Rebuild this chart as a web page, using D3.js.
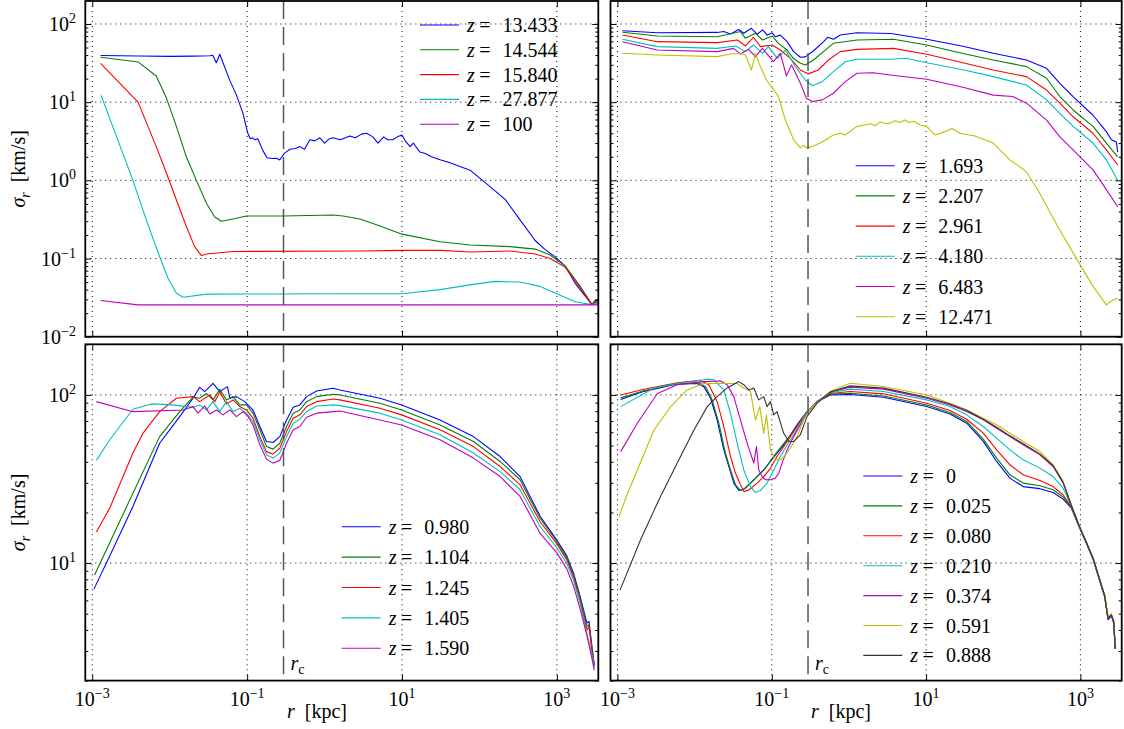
<!DOCTYPE html>
<html>
<head>
<meta charset="utf-8">
<script src="https://cdn.jsdelivr.net/npm/d3@7"></script>
<style>
  body { margin: 0; background: #fff; }
</style>
</head>
<body>
<svg id="chart"></svg>
<script>
// data: [r in kpc, sigma_r in km/s]

// top left
var z13_433 = [[0.00128,39.5],[0.004,39],[0.01,38.5],[0.02,38.8],[0.033,39.2],[0.036,39.8],[0.040,32],[0.0443,41],[0.0597,19],[0.0728,12.3],[0.0879,7.3],[0.102,4.0],[0.11,3.4],[0.118,3.5],[0.127,3.3],[0.137,3.4],[0.16,2.4],[0.18,1.95],[0.21,1.9],[0.24,1.92],[0.264,1.82],[0.30,2.2],[0.357,2.5],[0.42,2.55],[0.48,2.7],[0.55,2.5],[0.646,3.3],[0.75,3.2],[0.87,3.5],[1.0,3.0],[1.15,3.4],[1.28,3.5],[1.6,3.3],[2.12,3.7],[2.5,3.5],[3.0,3.9],[3.49,4.0],[4.2,3.6],[4.9,3.0],[5.8,3.6],[6.5,3.3],[7.6,3.3],[8.7,3.6],[10,3.8],[11,3.2],[12.7,2.7],[14,3.0],[17,2.3],[20,2.2],[24,2.0],[31,1.83],[40,1.7],[56,1.5],[75.7,1.35],[137,0.83],[215,0.57],[336,0.31],[524,0.17],[706,0.13],[950,0.105],[1282,0.08],[1725,0.048],[2838,0.0257],[3100,0.029],[3427,0.03]];
var z14_544 = [[0.00128,37.5],[0.0039,32.7],[0.0067,21.6],[0.0091,11.2],[0.0122,4.9],[0.0164,2.0],[0.0221,1.0],[0.0298,0.51],[0.0382,0.34],[0.0466,0.30],[0.0652,0.32],[0.098,0.35],[0.289,0.35],[1.28,0.36],[1.73,0.35],[2.86,0.32],[5.19,0.26],[10,0.205],[31,0.164],[75.7,0.149],[249,0.142],[524,0.132],[820,0.111],[1282,0.08],[2004,0.044],[2838,0.0257],[3100,0.028],[3427,0.029]];
var z15_840 = [[0.00128,31.4],[0.0039,10],[0.0067,2.7],[0.0091,1.23],[0.0122,0.56],[0.0164,0.257],[0.021,0.142],[0.0257,0.109],[0.03,0.114],[0.0652,0.123],[2.86,0.125],[10,0.127],[31,0.127],[75.7,0.121],[249,0.125],[524,0.114],[820,0.1],[1282,0.077],[2004,0.042],[2838,0.0257],[3100,0.027],[3427,0.028]];
var z27_877 = [[0.0013,12.2],[0.00335,1.0],[0.005,0.31],[0.0074,0.106],[0.0095,0.056],[0.0122,0.036],[0.0149,0.032],[0.0298,0.035],[2.86,0.0355],[10,0.0355],[31,0.04],[75.7,0.046],[159,0.051],[336,0.050],[608,0.044],[1104,0.034],[1725,0.028],[2838,0.0257],[3427,0.027]];
var z100 = [[0.00128,0.029],[0.0039,0.0255],[2838,0.0255],[3427,0.0255]];

// top right
var z1_693 = [[0.00116,82],[0.00329,77.4],[0.0196,78],[0.0239,80],[0.0292,74.5],[0.0374,85],[0.0433,76],[0.0545,88],[0.0646,74],[0.0763,84],[0.0871,72],[0.101,77],[0.111,68.8],[0.129,72],[0.158,59.4],[0.192,44.3],[0.235,37.5],[0.272,38],[0.349,45.5],[0.47,59.4],[0.529,67.6],[0.632,63.7],[0.772,72.3],[1.27,77.4],[3.5,75.5],[10.2,63.7],[30,52],[74.2,42.2],[200,34.6],[364,27.1],[541,17.4],[804,11.8],[1456,6.8],[2170,4.2],[2517,3.3],[2922,3.1],[3040,2.3]];
var z2_207 = [[0.00116,78.3],[0.00329,70.3],[0.0196,68.8],[0.0393,80],[0.0456,65.6],[0.0614,76],[0.0757,62.4],[0.101,70.3],[0.122,56.6],[0.158,46.5],[0.19,36.4],[0.235,31.4],[0.272,29.8],[0.347,34.6],[0.468,44.3],[0.628,56.6],[1.27,62.4],[3.78,63.7],[10.2,53.9],[30,42],[74.2,34.6],[200,28.5],[364,20.2],[541,11.8],[804,7.95],[1456,4.9],[2170,3.0],[3040,2.0]];
var z2_961 = [[0.00116,72.3],[0.00329,59.4],[0.0196,57.7],[0.036,62.4],[0.0456,52.3],[0.0579,67.6],[0.0713,51.3],[0.101,53.9],[0.129,46.5],[0.174,36.4],[0.235,25.8],[0.298,23],[0.401,25.8],[0.541,34.6],[0.772,44.3],[1.27,47.4],[3.78,48.8],[10.2,41.0],[30,32],[74.2,25.8],[200,21.2],[364,14.3],[541,9.7],[804,6.5],[1456,4.0],[2170,2.45],[3040,1.57]];
var z4_180 = [[0.00116,63.7],[0.00329,51.3],[0.0196,48.8],[0.0339,52.3],[0.0456,44.3],[0.0579,53.9],[0.0757,42.2],[0.0905,51.3],[0.118,36.4],[0.150,46.5],[0.202,28.5],[0.272,19.2],[0.336,16.2],[0.452,18.3],[0.628,24.6],[0.898,32.9],[1.27,35.4],[3.42,35.4],[5.51,36.4],[10.2,32.0],[30,26],[74.2,21.2],[200,16.6],[364,10.7],[541,7.2],[804,4.9],[1456,3.0],[2170,1.83],[3040,1.0]];
var z6_483 = [[0.00116,59.4],[0.00329,46.5],[0.0196,44.3],[0.0319,48.8],[0.0393,41.4],[0.0499,47.4],[0.0614,38.2],[0.0757,48.8],[0.105,33],[0.129,42.2],[0.155,21.6],[0.18,30],[0.235,17.4],[0.281,11.2],[0.336,10.2],[0.452,10.7],[0.628,13],[0.898,18.3],[1.27,23.4],[2.07,23.8],[3.42,22.3],[10.2,19.6],[30,15.5],[74.2,12.3],[133,11.8],[200,9.7],[364,5.9],[541,3.6],[804,2.45],[1456,1.36],[2170,0.76],[3040,0.46]];
var z12_471 = [[0.00116,42.2],[0.00329,40.1],[0.0196,38.2],[0.0292,41.4],[0.0393,42],[0.0456,40.1],[0.0545,25.8],[0.0614,42],[0.0713,28.5],[0.0853,19.2],[0.102,15.1],[0.122,11.8],[0.150,5.9],[0.192,3.3],[0.235,2.6],[0.257,2.8],[0.281,2.6],[0.336,2.7],[0.452,3.1],[0.628,3.8],[0.772,4.0],[0.898,3.8],[1.27,4.9],[1.6,5.1],[1.89,5.3],[2.2,5.0],[2.54,5.6],[3.0,5.3],[3.42,5.4],[4.0,5.8],[4.61,5.5],[5.3,5.9],[6,5.5],[7,5.7],[8.36,5.1],[10.2,4.9],[13.1,3.8],[17.6,4.2],[21.7,4.6],[27.5,4.0],[43,3.7],[74.2,3.0],[122,1.83],[200,1.29],[298,0.68],[541,0.23],[804,0.118],[1456,0.044],[2170,0.0255],[2582,0.029],[3040,0.031]];

// bottom left
var z0_980 = [[0.00105,7.0],[0.00168,11.0],[0.00335,21.7],[0.00741,51.6],[0.01346,74.3],[0.0200,95.6],[0.0244,111],[0.0283,104.6],[0.0363,117],[0.0443,104.6],[0.0557,112],[0.0597,95.6],[0.0728,97.7],[0.0931,91.2],[0.119,81.4],[0.146,64.9],[0.178,52.9],[0.216,52.1],[0.264,56.5],[0.323,71],[0.393,84.5],[0.480,87.2],[0.585,97.7],[0.789,105.6],[1.29,109.6],[1.58,107],[5.19,95.6],[9.9,87.2],[31,71],[83.6,56.5],[185,43],[335,32.7],[451,24.9],[608,19.0],[1000,13.7],[1349,11.0],[1641,8.7],[2004,6.3],[2445,4.4],[2600,4.5],[2838,3.2],[3040,2.45]];
var z1_104 = [[0.00107,8.5],[0.00168,13.2],[0.00335,26],[0.00741,56.5],[0.01346,79.5],[0.0200,97],[0.0244,95.6],[0.0298,102],[0.0363,93.4],[0.0443,108],[0.0541,93.4],[0.0658,97.7],[0.0803,87.2],[0.098,87.2],[0.119,77.9],[0.146,62],[0.178,49.3],[0.216,47.6],[0.264,51.6],[0.323,64.9],[0.393,77.9],[0.480,81.4],[0.585,91.2],[0.789,97.7],[1.29,101],[1.58,100],[5.19,89.3],[9.9,81.4],[31,66.3],[83.6,52.8],[185,40.2],[335,31.3],[451,24.0],[608,18.5],[1000,13.4],[1349,10.7],[1641,8.5],[2004,6.2],[2445,4.2],[2600,4.3],[2838,3.1],[3040,2.5]];
var z1_245 = [[0.00113,15.3],[0.00168,21.2],[0.00335,45.1],[0.00451,59.1],[0.00741,79.5],[0.0122,95.6],[0.0200,97.7],[0.0244,91.2],[0.0329,100],[0.0382,91.2],[0.0443,104.6],[0.0541,88.4],[0.0658,93.4],[0.0803,85.2],[0.098,81.4],[0.119,72.7],[0.146,56.5],[0.178,46],[0.216,44.4],[0.264,48.2],[0.323,60.5],[0.393,72.7],[0.480,76.1],[0.585,85.2],[0.789,91.2],[1.29,94.6],[1.58,93.4],[5.19,83.3],[9.9,76.1],[31,62],[83.6,49.3],[185,37.5],[335,29.2],[451,22.7],[608,17.6],[1000,13.0],[1349,10.4],[1641,8.3],[2004,5.9],[2445,4.0],[2600,4.2],[2838,3.0],[3040,2.45]];
var z1_405 = [[0.00113,40.8],[0.00168,54.1],[0.00335,82.2],[0.0058,88.4],[0.011,87.2],[0.0164,85.2],[0.0200,84.5],[0.0244,87.2],[0.0298,81.4],[0.0363,91.2],[0.0443,79.5],[0.0541,91.2],[0.0658,79.5],[0.0803,83.3],[0.098,77.9],[0.119,69.5],[0.146,54.1],[0.178,44.0],[0.216,42.1],[0.264,45.1],[0.323,56.5],[0.393,67.9],[0.480,71.7],[0.585,79.5],[0.789,86],[1.29,87.2],[1.58,86.4],[5.19,77.9],[9.9,71],[31,57.9],[83.6,45.1],[185,35],[335,27.3],[451,21.2],[608,16.5],[1000,12.3],[1349,9.9],[1641,7.9],[2004,5.7],[2445,3.8],[2838,2.85],[3040,2.4]];
var z1_590 = [[0.00113,91.2],[0.00335,79.5],[0.0149,81.4],[0.0200,85.2],[0.0232,77.9],[0.0283,86],[0.0329,77.1],[0.0401,81.4],[0.0489,76.1],[0.0597,81.4],[0.0728,74.3],[0.0887,79.5],[0.103,74.3],[0.119,66.3],[0.146,50.5],[0.178,41.5],[0.216,39.3],[0.264,40.7],[0.323,51.6],[0.393,62],[0.480,64.9],[0.585,73.7],[0.789,77.9],[1.29,79.5],[1.58,80.3],[5.19,71],[9.9,66.3],[31,54.1],[83.6,42.1],[185,32.7],[335,24.9],[451,19.4],[608,15.0],[1000,11.5],[1349,9.2],[1641,7.3],[2004,5.3],[2445,3.7],[2838,2.7],[3040,2.3]];

// bottom right
var z0 = [[0.0011,94],[0.00221,105],[0.00596,116],[0.0108,117],[0.0132,112],[0.0161,95.5],[0.0196,70.9],[0.0239,47.1],[0.0278,37.5],[0.0322,29.9],[0.0374,27.0],[0.0434,27.5],[0.053,29.9],[0.0646,32.7],[0.0787,35.8],[0.096,40.2],[0.117,45],[0.143,50.4],[0.174,57.8],[0.212,66.3],[0.286,79.6],[0.385,91.2],[0.573,100],[1.04,100.5],[2.81,96.8],[10.2,85.3],[20.4,77.1],[33.6,67.9],[55.1,52.9],[82,40.2],[122,32.0],[181,28.5],[298,27.7],[443,26.3],[597,24.0],[764,21.2],[980,16.1],[1194,13.1],[1459,10.5],[1778,7.8],[2063,6.3],[2278,4.6],[2518,4.85],[2697,4.4],[2830,3.1]];
var z0_025 = [[0.0011,96],[0.00221,106],[0.00596,117],[0.0114,118],[0.0139,112],[0.0169,93.4],[0.0206,67.9],[0.0251,45.0],[0.0292,35.8],[0.0339,29.2],[0.0393,27.0],[0.0456,27.9],[0.0556,30.5],[0.0678,33.5],[0.0828,36.6],[0.101,42.0],[0.123,47.1],[0.150,52.8],[0.183,59.1],[0.223,67.9],[0.286,79.6],[0.385,91.2],[0.573,101],[1.04,102.4],[2.81,98.6],[10.2,87.2],[20.4,78.6],[33.6,69.5],[55.1,54.6],[82,42.1],[122,33.5],[181,29.9],[298,28.8],[443,27.3],[597,24.7],[764,21.4],[980,16.2],[1194,13.2],[1459,10.6],[1778,7.9],[2063,6.3],[2278,4.7],[2518,4.9],[2697,4.5],[2830,3.1]];
var z0_080 = [[0.0011,100],[0.00221,108],[0.00596,118],[0.0119,122],[0.0153,115],[0.0196,91.2],[0.0239,64.8],[0.0292,43.0],[0.0339,34.2],[0.0393,29.2],[0.0434,26.6],[0.0504,27.2],[0.0646,29.9],[0.0787,32.7],[0.096,36.6],[0.117,43.0],[0.143,49.3],[0.174,56.5],[0.212,64.8],[0.286,79.6],[0.385,91.2],[0.573,102],[1.04,104.8],[2.81,101.5],[10.2,89.3],[20.4,80.8],[33.6,71.7],[55.1,59.2],[82,47.1],[122,38.4],[181,33.5],[298,31.0],[443,28.5],[597,25.5],[764,21.5],[980,16.2],[1194,13.2],[1459,10.6],[1778,7.9],[2063,6.4],[2278,4.7],[2518,4.95],[2697,4.5],[2830,3.15]];
var z0_210 = [[0.0011,85.2],[0.00298,110],[0.00596,117],[0.0146,124],[0.0178,123],[0.0239,107],[0.0292,77.8],[0.0356,51.6],[0.0434,35.8],[0.053,28.5],[0.0614,26.3],[0.0713,27.0],[0.0869,29.9],[0.106,35.8],[0.129,43.0],[0.158,50.4],[0.192,57.8],[0.234,67.9],[0.286,79.6],[0.385,91.2],[0.573,103],[1.04,108.3],[2.81,104.8],[10.2,93.4],[20.4,85.3],[33.6,76.1],[55.1,64.9],[82,55.3],[122,47.1],[181,41.1],[298,36.7],[443,32.7],[597,27.9],[764,21.7],[980,16.3],[1194,13.3],[1459,10.6],[1778,7.9],[2063,6.4],[2278,4.7],[2518,4.9],[2697,4.5],[2830,3.1]];
var z0_374 = [[0.0011,46],[0.00181,67.9],[0.00329,102],[0.00596,115],[0.0132,120],[0.0217,121],[0.0264,115],[0.0322,97.7],[0.0393,70.9],[0.048,51.6],[0.0585,39.3],[0.0633,49.3],[0.0678,35.8],[0.075,32.7],[0.0828,31.3],[0.096,31.3],[0.111,32.0],[0.123,34.2],[0.136,39.3],[0.158,47.1],[0.192,56.5],[0.234,66.3],[0.286,77.8],[0.385,91.2],[0.573,104],[1.04,111.3],[2.81,108.3],[10.2,95.5],[20.4,87.2],[33.6,79.6],[55.1,71.1],[82,63.4],[122,56.6],[181,50.5],[298,44.0],[443,37.5],[597,29.9],[764,21.9],[980,16.3],[1194,13.3],[1459,10.7],[1778,8.0],[2063,6.4],[2278,4.7],[2518,4.9],[2697,4.5],[2830,3.1]];
var z0_591 = [[0.00105,18.9],[0.00128,24.3],[0.00181,35.8],[0.00298,61.9],[0.00489,85.2],[0.00803,107],[0.0132,117],[0.0217,117],[0.0356,117],[0.0434,110],[0.053,105],[0.0614,70.9],[0.0699,85.2],[0.0787,59.1],[0.0853,76.0],[0.096,47.1],[0.106,43.0],[0.117,41.1],[0.129,41.1],[0.150,43.9],[0.174,48.2],[0.212,56.5],[0.259,70.9],[0.316,83.3],[0.426,93.4],[0.573,105],[1.04,117.4],[2.81,112.3],[10.2,100],[20.4,89.3],[33.6,81.5],[55.1,72.7],[82,66.4],[122,59.2],[181,52.9],[298,46.1],[443,38.4],[597,30.6],[764,22.2],[980,16.5],[1194,13.4],[1459,10.8],[1778,8.0],[2063,6.5],[2278,4.8],[2518,5.0],[2697,4.6],[2830,3.2]];
var z0_888 = [[0.00108,6.9],[0.002,13.8],[0.00345,23.8],[0.00596,39.3],[0.0098,61.9],[0.0146,85.2],[0.0196,97.7],[0.0264,110],[0.0374,120],[0.0434,115],[0.0504,107],[0.0585,110],[0.0678,93.4],[0.0787,97.7],[0.0869,85.2],[0.096,91.2],[0.106,76.0],[0.117,79.6],[0.143,59.1],[0.166,52.8],[0.192,52.8],[0.234,57.8],[0.286,74.3],[0.385,89.1],[0.573,104],[1.04,113.2],[2.81,109.8],[10.2,96.8],[20.4,88.4],[33.6,80.8],[55.1,71.7],[82,64.3],[122,57.1],[181,51.2],[298,44.6],[443,37.9],[597,30.2],[764,22.0],[980,16.4],[1194,13.3],[1459,10.7],[1778,8.0],[2063,6.4],[2278,4.7],[2518,4.9],[2697,4.5],[2830,3.1]];

// legend labels (redshift z)
var labelsTL = ["13.433", "14.544", "15.840", "27.877", "100"];
var labelsTR = ["1.693", "2.207", "2.961", "4.180", "6.483", "12.471"];
var labelsBL = ["0.980", "1.104", "1.245", "1.405", "1.590"];
var labelsBR = ["0", "0.025", "0.080", "0.210", "0.374", "0.591", "0.888"];

var xMajors = [1e-3, 1e-1, 1e1, 1e3];
var rc = 0.295;

var colors = {b: "#0000ff", g: "#008000", r: "#ff0000", c: "#00bfbf", m: "#bf00bf", y: "#bfbf00", k: "#333333"};
var FONT = "'Liberation Serif', 'Times New Roman', 'DejaVu Serif', serif";

var svg = d3.select("#chart")
    .attr("width", 1124).attr("height", 729)
    .attr("font-family", FONT);

var xDomain = [Math.pow(10, -3.09), Math.pow(10, 3.535)];

var panels = [
    {left: 85.3, right: 598.3, top: 1, bottom: 336.7, yDomain: [0.01, 196.8],
     series: [z13_433, z14_544, z15_840, z27_877, z100], labels: labelsTL, cols: "bgrcm",
     legend: {x: 420, y: 25, step: 24.8}, yText: true, xText: false},
    {left: 610.5, right: 1121.7, top: 1, bottom: 336.7, yDomain: [0.01, 196.8],
     series: [z1_693, z2_207, z2_961, z4_180, z6_483, z12_471], labels: labelsTR, cols: "bgrcmy",
     legend: {x: 855.7, y: 165.7, step: 30.2}, yText: false, xText: false},
    {left: 85.3, right: 598.3, top: 344.3, bottom: 680.6, yDomain: [2, 200],
     series: [z0_980, z1_104, z1_245, z1_405, z1_590], labels: labelsBL, cols: "bgrcm",
     legend: {x: 341.7, y: 526.7, step: 30.4}, yText: true, xText: true, xLabelX: 317},
    {left: 610.5, right: 1121.7, top: 344.3, bottom: 680.6, yDomain: [2, 200],
     series: [z0, z0_025, z0_080, z0_210, z0_374, z0_591, z0_888], labels: labelsBR, cols: "bgrcmyk",
     legend: {x: 863.3, y: 476, step: 29.9}, yText: false, xText: true, xLabelX: 841}
];

function isMajor(v) {
    var l = Math.log10(v);
    return Math.abs(l - Math.round(l)) < 1e-6;
}

function txt(sel) {
    return sel.append("text").attr("font-family", FONT).attr("fill", "#000").attr("font-size", 20);
}

// "10" with a superscript exponent
function powLabel(sel, v) {
    var e = Math.round(Math.log10(v));
    sel.append("tspan").text("10");
    sel.append("tspan").attr("dy", -8).attr("font-size", 14)
        .text(e < 0 ? "\u2212" + (-e) : String(e));
}

panels.forEach(function(p, i) {
    var x = d3.scaleLog().domain(xDomain).range([p.left, p.right]);
    var y = d3.scaleLog().domain(p.yDomain).range([p.bottom, p.top]);
    var g = svg.append("g");

    svg.append("clipPath").attr("id", "clip" + i)
        .append("rect")
        .attr("x", p.left).attr("y", p.top)
        .attr("width", p.right - p.left).attr("height", p.bottom - p.top);

    var yTicks = y.ticks();
    var yMaj = yTicks.filter(isMajor);
    var yMin = yTicks.filter(function(v) { return !isMajor(v); });

    // dotted grid
    g.selectAll(".hgrid").data(yMaj).enter().append("line")
        .attr("x1", p.left).attr("x2", p.right)
        .attr("y1", function(d) { return y(d); }).attr("y2", function(d) { return y(d); })
        .attr("stroke", "#000").attr("stroke-width", 1).attr("stroke-dasharray", "1,4");
    g.selectAll(".vgrid").data(xMajors).enter().append("line")
        .attr("x1", function(d) { return x(d); }).attr("x2", function(d) { return x(d); })
        .attr("y1", p.top).attr("y2", p.bottom)
        .attr("stroke", "#000").attr("stroke-width", 1).attr("stroke-dasharray", "1,4");

    // curves
    var line = d3.line().x(function(d) { return x(d[0]); }).y(function(d) { return y(d[1]); });
    var curves = g.append("g").attr("clip-path", "url(#clip" + i + ")");
    p.series.forEach(function(s, j) {
        curves.append("path").datum(s)
            .attr("d", line)
            .attr("fill", "none")
            .attr("stroke", colors[p.cols[j]])
            .attr("stroke-width", 1.1)
            .attr("stroke-linejoin", "round");
    });

    // core radius
    g.append("line")
        .attr("x1", x(rc)).attr("x2", x(rc))
        .attr("y1", p.top).attr("y2", p.bottom)
        .attr("stroke", "#555").attr("stroke-width", 1.5)
        .attr("stroke-dasharray", "18,8");

    // inward ticks on all four sides
    function addAxis(axis, tx, ty) {
        var a = g.append("g").attr("transform", "translate(" + tx + "," + ty + ")").call(axis);
        a.select(".domain").remove();
        a.selectAll("text").remove();
        a.selectAll("line").attr("stroke", "#000").attr("stroke-width", 1);
    }
    addAxis(d3.axisLeft(y).tickValues(yMaj).tickSize(-6), p.left, 0);
    addAxis(d3.axisLeft(y).tickValues(yMin).tickSize(-3), p.left, 0);
    addAxis(d3.axisRight(y).tickValues(yMaj).tickSize(-6), p.right, 0);
    addAxis(d3.axisRight(y).tickValues(yMin).tickSize(-3), p.right, 0);
    addAxis(d3.axisBottom(x).tickValues(xMajors).tickSize(-6), 0, p.bottom);
    addAxis(d3.axisTop(x).tickValues(xMajors).tickSize(-6), 0, p.top);

    // frame
    g.append("rect")
        .attr("x", p.left).attr("y", p.top)
        .attr("width", p.right - p.left).attr("height", p.bottom - p.top)
        .attr("fill", "none").attr("stroke", "#000").attr("stroke-width", 1.8);

    // tick labels
    if (p.yText) {
        yMaj.forEach(function(v) {
            var t = txt(g).attr("x", p.left - 9.3).attr("y", y(v) + 7).attr("text-anchor", "end");
            powLabel(t, v);
        });
        var yl = txt(g)
            .attr("transform", "translate(25," + ((p.top + p.bottom) / 2) + ") rotate(-90)")
            .attr("text-anchor", "middle");
        yl.append("tspan").attr("font-style", "italic").text("\u03c3");
        yl.append("tspan").attr("font-style", "italic").attr("font-size", 14).attr("dy", 5).text("r");
        yl.append("tspan").attr("dy", -5).text("\u2002[km/s]");
    }
    if (p.xText) {
        xMajors.forEach(function(v) {
            var t = txt(g).attr("x", x(v)).attr("y", 706).attr("text-anchor", "middle");
            powLabel(t, v);
        });
        var xl = txt(g).attr("x", p.xLabelX).attr("y", 718).attr("text-anchor", "middle");
        xl.append("tspan").attr("font-style", "italic").text("r");
        xl.append("tspan").text("\u2002[kpc]");

        var rt = txt(g).attr("x", x(rc) + 7).attr("y", 670);
        rt.append("tspan").attr("font-style", "italic").text("r");
        rt.append("tspan").attr("font-size", 14).attr("dy", 4).text("c");
    }

    // legend, no frame
    p.labels.forEach(function(lab, j) {
        var ly = p.legend.y + j * p.legend.step;
        g.append("line")
            .attr("x1", p.legend.x).attr("x2", p.legend.x + 39)
            .attr("y1", ly).attr("y2", ly)
            .attr("stroke", colors[p.cols[j]]).attr("stroke-width", 1.1);
        var t = txt(g).attr("x", p.legend.x + 47).attr("y", ly + 7);
        t.append("tspan").attr("font-style", "italic").text("z");
        t.append("tspan").attr("dx", 4.5).text("=");
        t.append("tspan").attr("dx", 12).text(lab);
    });
});
</script>
</body>
</html>
